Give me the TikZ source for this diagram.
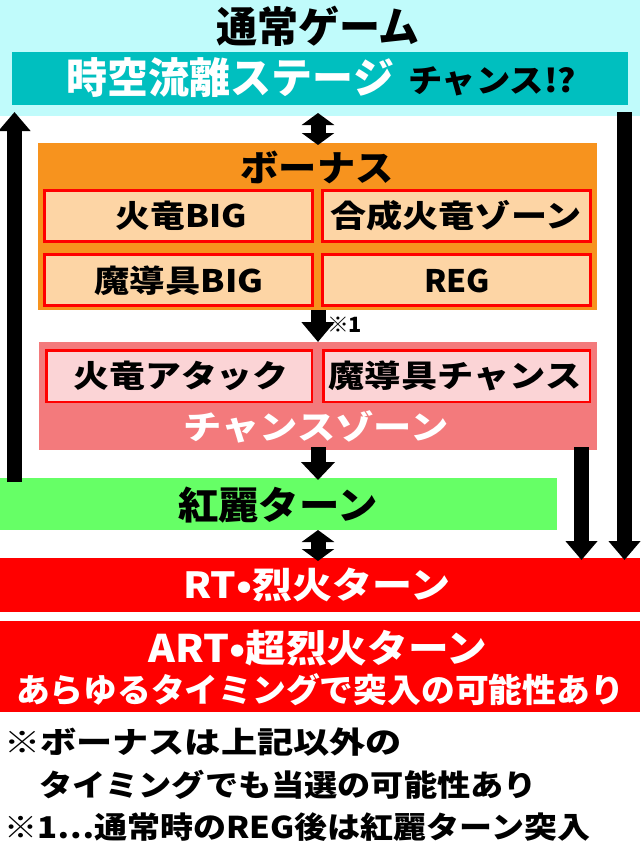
\documentclass[tikz,border=0pt]{standalone}
\usepackage{fontspec}
\usepackage{graphicx}
\setmainfont{Noto Sans CJK JP}[BoldFont={Noto Sans CJK JP Black}]
\usetikzlibrary{arrows.meta}
\definecolor{lcyan}{HTML}{C0FBFB}
\definecolor{dcyan}{HTML}{00BFBF}
\definecolor{borange}{HTML}{F7931E}
\definecolor{peach}{HTML}{FDD5A5}
\definecolor{salmon}{HTML}{F37A7C}
\definecolor{lpink}{HTML}{FBD4D6}
\definecolor{lgreen}{HTML}{66FF66}
\definecolor{bred}{HTML}{FF0000}
\newcommand\tx[3]{{\fontsize{#1}{#1}\selectfont\resizebox{#2}{\height}{#3}}}
\tikzset{
  box/.style={anchor=north west, inner sep=0pt, outer sep=0pt, draw=none},
  ibox/.style={anchor=north west, inner sep=0pt, outer sep=0pt, draw=bred, line width=2.5pt},
  t/.style={inner sep=0pt, outer sep=0pt, font=\bfseries},
  barrow/.style={line width=15pt, -{Triangle[width=31pt,length=19pt]}},
  dblarrow/.style={line width=15pt, {Triangle[width=32pt,length=12pt]}-{Triangle[width=32pt,length=12pt]}},
}
\begin{document}
\begin{tikzpicture}[x=1pt,y=-1pt]
\path[use as bounding box] (0,0) rectangle (640,843);
% boxes
\node[box, fill=lcyan, minimum width=640pt, minimum height=116pt] (normal) at (0,0) {};
\node[box, fill=dcyan, minimum width=616pt, minimum height=53pt] (stage) at (12,52) {};
\node[box, fill=borange, minimum width=559pt, minimum height=167pt] (bonus) at (38,143) {};
\node[ibox, fill=peach, minimum width=268pt, minimum height=51pt] (b1) at (44.25,190.25) {};
\node[ibox, fill=peach, minimum width=268pt, minimum height=51pt] (b2) at (322.25,190.25) {};
\node[ibox, fill=peach, minimum width=268pt, minimum height=51pt] (b3) at (44.25,254.25) {};
\node[ibox, fill=peach, minimum width=268pt, minimum height=51pt] (b4) at (322.25,254.25) {};
\node[box, fill=salmon, minimum width=558pt, minimum height=108pt] (chance) at (39,342) {};
\node[ibox, fill=lpink, minimum width=265.5pt, minimum height=51.5pt] (c1) at (46.25,350.25) {};
\node[ibox, fill=lpink, minimum width=266.5pt, minimum height=51.5pt] (c2) at (323.25,350.25) {};
\node[box, fill=lgreen, minimum width=557pt, minimum height=52pt] (kurei) at (0,478) {};
\node[box, fill=bred, minimum width=640pt, minimum height=54pt] (rt) at (0,558) {};
\node[box, fill=bred, minimum width=640pt, minimum height=91pt] (art) at (0,621) {};
% texts
\node[t] (tNormal) at (318,26) {\tx{42}{204pt}{通常ゲーム}};
\node[t, text=white] (tStage) at (230.5,78) {\tx{42}{327pt}{時空流離ステージ}};
\node[t] (tChance1) at (492,81) {\tx{32}{168pt}{チャンス!?}};
\node[t] (tBonus) at (317,167) {\tx{36}{153pt}{ボーナス}};
\node[t] (tb1) at (181.5,216) {\tx{31}{131pt}{火竜BIG}};
\node[t] (tb2) at (456,216) {\tx{31}{251pt}{合成火竜ゾーン}};
\node[t] (tb3) at (179,281) {\tx{31}{169pt}{魔導具BIG}};
\node[t] (tb4) at (457,281) {\tx{31}{66pt}{REG}};
\node[t] (tnote1) at (344.5,325) {\tx{21}{35pt}{※1}};
\node[t] (tc1) at (181,376) {\tx{31}{215pt}{火竜アタック}};
\node[t] (tc2) at (455,376) {\tx{31}{253pt}{魔導具チャンス}};
\node[t, text=white] (tZone) at (316,427) {\tx{33}{265pt}{チャンスゾーン}};
\node[t] (tKurei) at (278,505) {\tx{38}{200pt}{紅麗ターン}};
\node[t, text=white] (tRT) at (317,585) {\tx{36}{267pt}{RT•烈火ターン}};
\node[t, text=white] (tART) at (318,648) {\tx{38}{339pt}{ART•超烈火ターン}};
\node[t, text=white] (tART2) at (320,690) {\tx{33}{608pt}{あらゆるタイミングで突入の可能性あり}};
\node[t, anchor=west] (n1) at (4,742) {\tx{30}{398pt}{※ボーナスは上記以外の}};
\node[t, anchor=west] (n2) at (39,785) {\tx{30}{498pt}{タイミングでも当選の可能性あり}};
\node[t, anchor=west] (n3) at (4,827) {\tx{30}{586pt}{※1…通常時のREG後は紅麗ターン突入}};
% arrow columns
\coordinate (xl) at (14.5,0);
\coordinate (xr1) at (581.5,0);
\coordinate (xr2) at (624.5,0);
\coordinate (xc) at (318,0);
% arrows
\draw[barrow] ([yshift=-4pt]kurei.north -| xl) -- ([yshift=4pt]normal.south -| xl);
\draw[barrow] ([yshift=4pt]normal.south -| xr2) -- ([yshift=-2pt]rt.north -| xr2);
\draw[barrow] ([yshift=3pt]chance.south -| xr1) -- ([yshift=-2pt]rt.north -| xr1);
\draw[dblarrow] ([yshift=3pt]normal.south -| xc) -- ([yshift=-2pt]bonus.north -| xc);
\draw[barrow, -{Triangle[width=32pt,length=20pt]}] (bonus.south -| xc) -- (chance.north -| xc);
\draw[barrow, -{Triangle[width=33pt,length=18pt]}] ([yshift=3pt]chance.south -| xc) -- ([yshift=-2pt]kurei.north -| xc);
\draw[dblarrow] (kurei.south -| xc) -- ([yshift=-3pt]rt.north -| xc);
\end{tikzpicture}
\end{document}
